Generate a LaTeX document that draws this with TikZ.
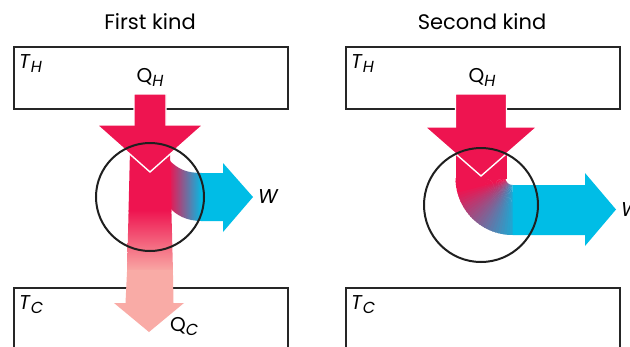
\documentclass[tikz,border=0pt]{standalone}
\usepackage{fontspec}
\setmainfont{Poppins}
\definecolor{heatred}{HTML}{EE1450}
\definecolor{workblue}{HTML}{00BDE6}
\definecolor{coldpink}{HTML}{F9ABA6}

\begin{document}
\begin{tikzpicture}[x=1pt,y=-1pt, every node/.style={font=\fontsize{20}{22}\selectfont, inner sep=0pt}]
  \newcommand{\tsub}[2]{#1\raisebox{-0.45ex}{\fontsize{16}{18}\selectfont\textit{#2}}}
  \tikzset{
    reservoir/.style={draw=black!85, line width=1.6pt, minimum width=274pt, minimum height=62pt, anchor=north west},
    engine/.style={draw=black!88, line width=2pt},
    heatarrow/.style={fill=heatred, draw=white, line width=1.4pt},
    kindtitle/.style={font=\fontsize{21}{23}\selectfont},
  }
  \clip (0,0) rectangle (630,346);
  \fill[white] (0,0) rectangle (630,346);
  % first kind
  \begin{scope}
    \node[kindtitle] (title1) at (150,22) {First kind};
    \node[reservoir] (hot1) at (13,46) {};
    \node[reservoir, minimum height=90pt] (cold1) at (13,287) {};
    \node[anchor=base west] (th1) at (19,68) {\tsub{\textit{T}}{H}};
    \node[anchor=base west] (tc1) at (19,309) {\tsub{\textit{T}}{C}};
    \node[anchor=base] (qh1) at (150,82) {\tsub{Q}{H}};
    \node[anchor=base west] (qc1) at (170,331) {\tsub{Q}{C}};
    \node[anchor=west] (w1) at (258,197) {\textit{W}};
    % work branch
    \shade[left color=heatred, right color=workblue]
      (169,160) .. controls (178,169) and (186,173) .. (202,173) -- (202,221)
      .. controls (186,221) and (176,215) .. (169,207) -- cycle;
    \fill[workblue] (201,173) -- (223,173) -- (223,163) -- (253,197) -- (223,232) -- (223,221) -- (201,221) -- cycle;
    % rejected heat
    \fill[heatred] (130,150) -- (170,150) -- (171.5,212) -- (128.5,212) -- cycle;
    \shade[top color=heatred, bottom color=coldpink] (128.6,210) -- (171.4,210) -- (173,272) -- (127,272) -- cycle;
    \fill[coldpink] (127.1,270) -- (172.9,270) -- (173.5,303) -- (184,303) -- (149,332) -- (114,303) -- (125.5,303) -- cycle;
    % heat in
    \path[heatarrow] (134,94) -- (166,94) -- (166,125) -- (203,125) -- (150,172) -- (97,125) -- (134,125) -- cycle;
    \draw[engine] (150,197) circle[radius=54];
  \end{scope}
  % second kind
  \begin{scope}[xshift=332pt]
    \node[kindtitle] (title2) at (150,22) {Second kind};
    \node[reservoir] (hot2) at (13,46) {};
    \node[reservoir, minimum height=90pt] (cold2) at (13,287) {};
    \node[anchor=base west] (th2) at (19,68) {\tsub{\textit{T}}{H}};
    \node[anchor=base west] (tc2) at (19,309) {\tsub{\textit{T}}{C}};
    \node[anchor=base] (qh2) at (150,82) {\tsub{Q}{H}};
    \node[anchor=west] (w2) at (289,209.5) {\textit{W}};
    \coordinate (bend) at (180.5,178);
    \fill[heatred] (123.5,126) rectangle (174.5,178.5);
    \foreach \i in {0,...,29}{
      \pgfmathsetmacro{\ta}{180-3*\i}
      \pgfmathsetmacro{\tb}{180-3*\i-4}
      \pgfmathsetmacro{\mix}{max(15,min(100,100-(3*\i-12)*85/75))}
      \fill[heatred!\mix!workblue] ([shift={(\ta:7)}]bend) -- ([shift={(\ta:57)}]bend)
        arc[start angle=\ta, end angle=\tb, radius=57] -- ([shift={(\tb:7)}]bend)
        arc[start angle=\tb, end angle=\ta, radius=7] -- cycle;
    }
    \fill[workblue] (180.5,185) -- (253,185) -- (253,173) -- (284,209.5) -- (253,246) -- (253,235) -- (180.5,235) -- cycle;
    \path[heatarrow] (123.5,94) -- (174.5,94) -- (174.5,127) -- (205,127) -- (149,176) -- (93,127) -- (123.5,127) -- cycle;
    \draw[engine] (149,205) circle[radius=57];
  \end{scope}
\end{tikzpicture}
\end{document}
